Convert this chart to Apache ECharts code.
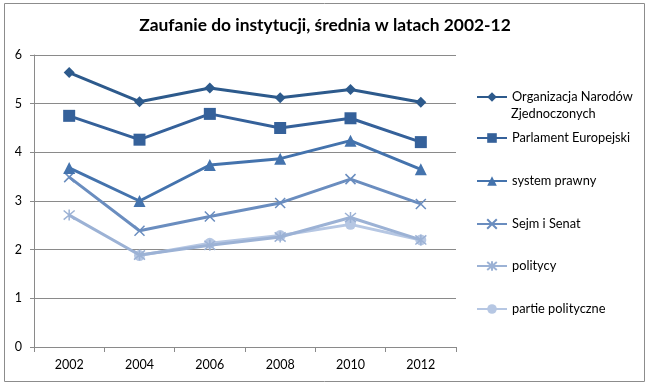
<!DOCTYPE html>
<html><head><meta charset="utf-8">
<script src="https://cdn.jsdelivr.net/npm/echarts@6/dist/echarts.min.js"></script>
<style>html,body{margin:0;padding:0;background:#fff}#c{width:650px;height:387px}</style>
</head><body><div id="c"></div>
<script>
const years = ['2002','2004','2006','2008','2010','2012'];
const seriesNames = ['Organizacja Narodów Zjednoczonych','Parlament Europejski','system prawny','Sejm i Senat','politycy','partie polityczne'];
const onz = [5.64, 5.04, 5.32, 5.12, 5.29, 5.03];
const parlament = [4.75, 4.26, 4.79, 4.50, 4.70, 4.21];
const systemPrawny = [3.68, 3.00, 3.74, 3.87, 4.24, 3.65];
const sejm = [3.49, 2.39, 2.68, 2.96, 3.45, 2.94];
const politycy = [2.71, 1.89, 2.09, 2.26, 2.66, 2.20];
const partie = [null, 1.88, 2.13, 2.29, 2.52, 2.20];
const yTicks = [0,1,2,3,4,5,6];

const colors = ['#2d5a8c','#35619a','#4473ad','#6a8dbf','#9cb2d5','#b6c7e3'];
const symbols = ['diamond','rect','triangle','path://M0,0L10,10M10,0L0,10','path://M0,0L10,10M10,0L0,10M5,-1L5,11','circle'];
const sizes = [11,12,12,10,11,11];
const values = [onz, parlament, systemPrawny, sejm, politycy, partie];
const legendCenters = [97,138,181,224,266,309];
const font = 'Lato, "Liberation Sans", sans-serif';

const chart = echarts.init(document.getElementById('c'), null, {renderer:'canvas'});
const series = values.map((v,i)=>({
  name: seriesNames[i], type:'line', data:v, symbol:symbols[i], symbolSize:sizes[i],
  showAllSymbol:true, connectNulls:false,
  lineStyle:{color:colors[i], width:3},
  itemStyle:{color:colors[i], borderColor:colors[i], borderWidth: (i===3||i===4)?1.5:0},
  emphasis:{disabled:true}, z: 10-i
}));
const legends = seriesNames.map((n,i)=>{
  const isOnz = i===0;
  return {
    data:[n], left:476, top: legendCenters[i]-8, padding:0,
    orient:'vertical', itemWidth:30, itemHeight:12, selectedMode:false,
    formatter: isOnz ? 'Organizacja Narodów' : '{name}',
    textStyle:{fontFamily:font, fontSize:12.8, color:'#000', lineHeight:16}
  };
});
chart.setOption({
  animation:false,
  title:{text:'Zaufanie do instytucji, średnia w latach 2002-12', left:'center', top:12,
    textStyle:{fontFamily:font, fontSize:17.4, fontWeight:'bold', color:'#000'}},
  legend: legends,
  grid:{left:34, right:194, top:55, bottom:40, containLabel:false},
  xAxis:{type:'category', data:years, boundaryGap:true,
    axisLine:{lineStyle:{color:'#8a8a8a', width:1}},
    axisTick:{show:true, length:5, lineStyle:{color:'#8a8a8a'}},
    axisLabel:{fontFamily:font, fontSize:12.5, color:'#000', margin:11}},
  yAxis:{type:'value', min:yTicks[0], max:yTicks[yTicks.length-1], interval:1,
    axisLine:{show:true, lineStyle:{color:'#8a8a8a', width:1}},
    axisTick:{show:true, length:4, lineStyle:{color:'#8a8a8a'}},
    splitLine:{lineStyle:{color:'#8a8a8a', width:1}},
    axisLabel:{fontFamily:font, fontSize:12.5, color:'#000', margin:12}},
  series: series,
  graphic:[
    {type:'rect', shape:{x:4.5, y:3.5, width:640, height:378}, style:{fill:'none', stroke:'#8c8c8c', lineWidth:1}, silent:true},
    {type:'text', left:511, top:107, style:{text:'Zjednoczonych', font:'12.8px ' + font, fill:'#000'}, silent:true}
  ]
});
</script></body></html>
